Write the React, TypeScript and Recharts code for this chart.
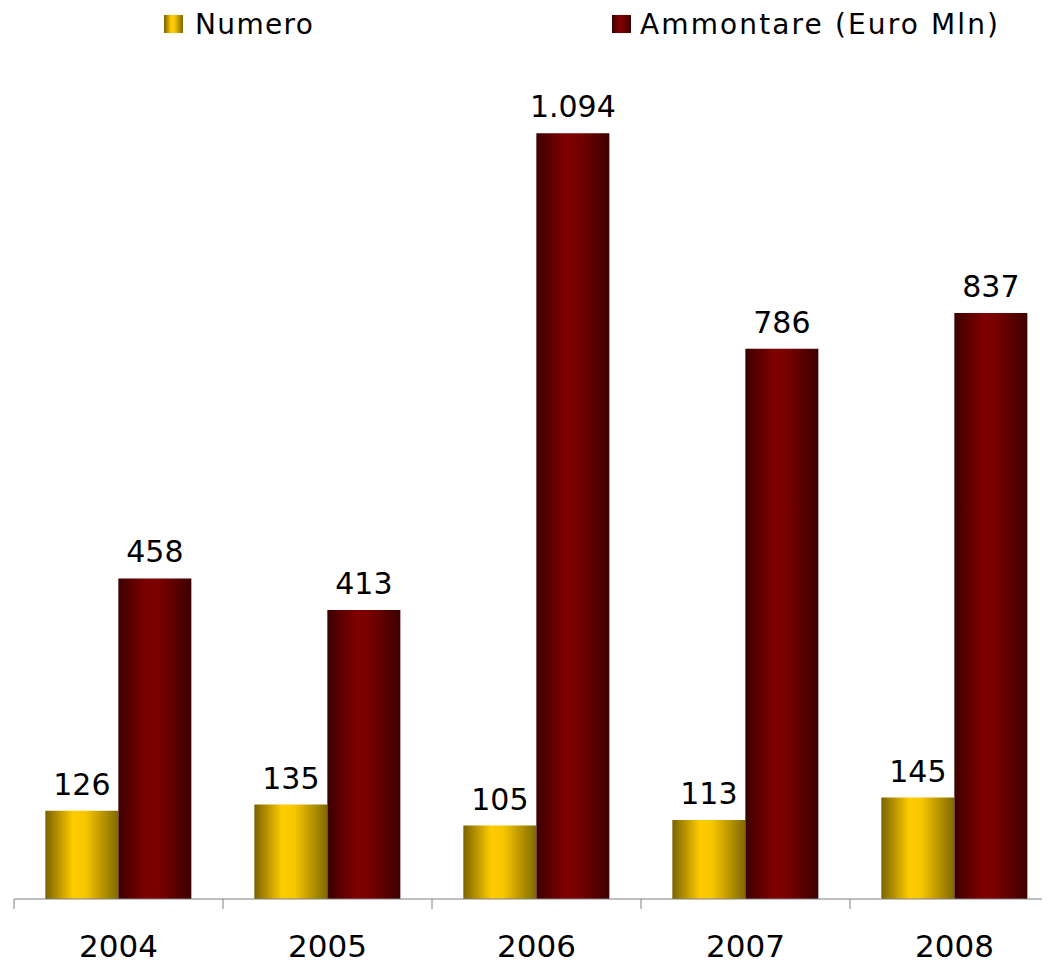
import { BarChart, Bar, XAxis, YAxis, LabelList } from 'recharts'

const YEARS = ['2004', '2005', '2006', '2007', '2008']
const NUMERO = [126, 135, 105, 113, 145]
const AMMONTARE = [458, 413, 1094, 786, 837]

const data = YEARS.map((year, i) => ({ year, numero: NUMERO[i], ammontare: AMMONTARE[i] }))

const FONT = '"DejaVu Sans", Verdana, sans-serif'

// thousands separator as in the source ("1.094")
const fmt = (v: number) => String(v).replace(/\B(?=(\d{3})+(?!\d))/g, '.')

function YearTick({ x, y, payload }: any) {
  return (
    <g>
      <line x1={x - 104.5} x2={x - 104.5} y1={y} y2={y + 10} stroke="#808080" />
      <text x={x} y={y + 58} textAnchor="middle" fontSize={31} fontFamily={FONT} fill="#000">
        {payload.value}
      </text>
    </g>
  )
}

function Gradients({ prefix }: { prefix: string }) {
  return (
    <defs>
      <linearGradient id={`${prefix}Y`} x1="0" y1="0" x2="1" y2="0">
        <stop offset="0%" stopColor="#7a6200" />
        <stop offset="38%" stopColor="#ffcc00" />
        <stop offset="55%" stopColor="#f7c600" />
        <stop offset="100%" stopColor="#7f6800" />
      </linearGradient>
      <linearGradient id={`${prefix}R`} x1="0" y1="0" x2="1" y2="0">
        <stop offset="0%" stopColor="#3d0000" />
        <stop offset="40%" stopColor="#800000" />
        <stop offset="55%" stopColor="#7a0000" />
        <stop offset="100%" stopColor="#3d0000" />
      </linearGradient>
    </defs>
  )
}

function TopLegend() {
  return (
    <svg width={1042} height={50} style={{ position: 'absolute', left: 0, top: 0 }}>
      <Gradients prefix="lg" />
      <rect x={156} y={7} width={19} height={18} fill="url(#lgY)" />
      <text x={187} y={26} fontSize={28} fontFamily={FONT} fill="#000" textLength={118} lengthAdjust="spacing">
        Numero
      </text>
      <rect x={604} y={7} width={19} height={18} fill="url(#lgR)" />
      <text x={632} y={26} fontSize={28} fontFamily={FONT} fill="#000" textLength={358} lengthAdjust="spacing">
        Ammontare (Euro Mln)
      </text>
    </svg>
  )
}

export default function App() {
  return (
    <div style={{ position: 'relative', width: 1042, height: 957, overflow: 'hidden', background: '#fff' }}>
      <BarChart
        width={1051}
        height={957}
        data={data}
        margin={{ top: 51, right: 0, left: 6, bottom: 0 }}
        barCategoryGap="15%"
        barGap={0}
      >
        <Gradients prefix="bar" />
        <XAxis
          dataKey="year"
          height={66}
          tickSize={0}
          tickMargin={0}
          tickLine={false}
          axisLine={{ stroke: '#808080' }}
          tick={<YearTick />}
          interval={0}
        />
        <YAxis hide domain={[0, 1200]} />
        <Bar dataKey="numero" fill="url(#barY)" isAnimationActive={false}>
          <LabelList dataKey="numero" position="top" offset={16} formatter={fmt} fontSize={30} fontFamily={FONT} fill="#000" />
        </Bar>
        <Bar dataKey="ammontare" fill="url(#barR)" isAnimationActive={false}>
          <LabelList dataKey="ammontare" position="top" offset={16} formatter={fmt} fontSize={30} fontFamily={FONT} fill="#000" />
        </Bar>
      </BarChart>
      <TopLegend />
    </div>
  )
}
